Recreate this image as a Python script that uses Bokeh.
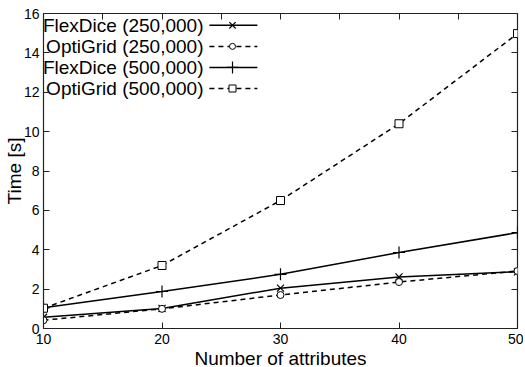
from bokeh.plotting import figure
from bokeh.models import LinearAxis, Range1d, FixedTicker
from bokeh.embed import file_html
from bokeh.resources import INLINE
from bokeh.core.properties import value

attributes = [10, 20, 30, 40, 50]
flex_250 = [0.57, 1.02, 2.05, 2.62, 2.88]
opti_250 = [0.42, 1.0, 1.7, 2.36, 2.92]
flex_500 = [1.05, 1.88, 2.75, 3.86, 4.87]
opti_500 = [1.03, 3.2, 6.5, 10.4, 14.98]
series_names = ["FlexDice (250,000)", "OptiGrid (250,000)",
                "FlexDice (500,000)", "OptiGrid (500,000)"]

FONT = "Liberation Sans"
AX = "#222222"

p = figure(frame_width=474, frame_height=315, x_range=Range1d(10, 50), y_range=Range1d(0, 16),
           output_backend="svg", toolbar_location=None,
           min_border_left=20, min_border_right=6, min_border_top=13, min_border_bottom=30)
p.background_fill_color = "white"
p.border_fill_color = "white"
p.grid.visible = False
p.outline_line_color = AX
p.outline_line_width = 1.2

for ax in (p.xaxis[0], p.yaxis[0]):
    ax.major_tick_in = 6
    ax.major_tick_out = 0
    ax.minor_tick_line_color = None
    ax.axis_line_color = AX
    ax.major_tick_line_color = AX
    ax.major_label_text_font = FONT
    ax.major_label_text_font_size = "14px"
    ax.major_label_text_color = "black"
    ax.axis_label_text_font = FONT
    ax.axis_label_text_font_size = "19px"
    ax.axis_label_text_font_style = "normal"
    ax.axis_label_text_color = "black"

p.xaxis[0].ticker = FixedTicker(ticks=[10, 20, 30, 40, 50])
p.yaxis[0].ticker = FixedTicker(ticks=list(range(0, 17, 2)))
p.xaxis[0].axis_label = "Number of attributes"
p.yaxis[0].axis_label = "Time [s]"
p.xaxis[0].major_label_standoff = 5
p.xaxis[0].axis_label_standoff = 1
p.yaxis[0].major_label_standoff = 4
p.yaxis[0].axis_label_standoff = -4

top = LinearAxis(ticker=FixedTicker(ticks=[15, 20, 25, 30, 35, 40, 45]))
right = LinearAxis(ticker=FixedTicker(ticks=list(range(2, 16, 2))))
for ax in (top, right):
    ax.major_tick_in = 6
    ax.major_tick_out = 0
    ax.minor_tick_line_color = None
    ax.axis_line_color = None
    ax.major_tick_line_color = AX
    ax.major_label_text_font_size = "1px"
    ax.major_label_text_color = None
    ax.major_label_standoff = 0
p.add_layout(top, "above")
p.add_layout(right, "right")

dash = "5 4"
lw = 1.5
p.line(attributes, flex_250, line_color="black", line_width=lw)
p.scatter(attributes, flex_250, marker="x", size=10, line_color="black", line_width=1.2)
p.line(attributes, opti_250, line_color="black", line_width=lw, line_dash=dash)
p.scatter(attributes, opti_250, marker="circle", size=7, line_color="black",
          fill_color="white", line_width=1)
p.line(attributes, flex_500, line_color="black", line_width=lw)
p.scatter(attributes, flex_500, marker="cross", size=12, line_color="black", line_width=1.2)
p.line(attributes, opti_500, line_color="black", line_width=lw, line_dash=dash)
p.scatter(attributes, opti_500, marker="square", size=8, line_color="black",
          fill_color="white", line_width=1)

# legend (text left, sample right), placed in data coordinates
text_x = 23.5
seg_x0, seg_x1, mark_x = 24.0, 28.05, 25.95
rows = [15.4, 14.33, 13.26, 12.19]
markers = ["x", "circle", "cross", "square"]
msizes = [9, 6, 12, 7]
dashes = ["solid", dash, "solid", dash]
for name, yy, mk, ms, ds in zip(series_names, rows, markers, msizes, dashes):
    p.text([text_x], [yy], text=[name], text_align="right", text_baseline="middle",
           text_font=value(FONT), text_font_size="19px", text_color="black")
    p.line([seg_x0, seg_x1], [yy, yy], line_color="black", line_width=lw, line_dash=ds)
    p.scatter([mark_x], [yy], marker=mk, size=ms, line_color="black", fill_color="white",
              line_width=1.2 if mk in ("x", "cross") else 1)

open("out.html", "w").write(file_html(p, INLINE))
